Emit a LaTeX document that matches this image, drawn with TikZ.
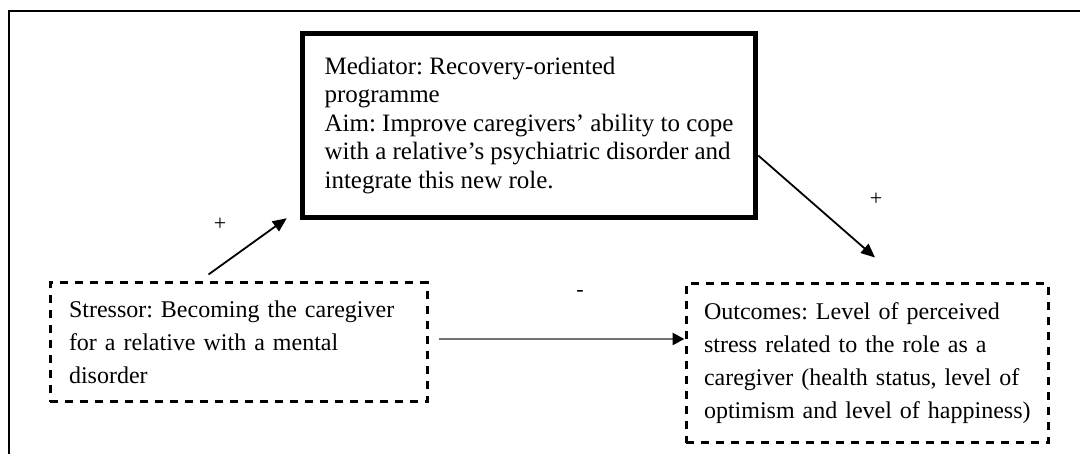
\documentclass[tikz,border=0pt]{standalone}
\usepackage{fontspec}
\setmainfont{Liberation Serif}
\usetikzlibrary{arrows.meta,calc}
\frenchspacing

\begin{document}
\begin{tikzpicture}[x=1pt, y=-1pt,
  medbox/.style={draw=black, line width=5.5pt, align=left, inner sep=0pt,
    font=\fontsize{25}{28.5}\selectfont},
  dashbox/.style={draw=black, line width=3pt, dash pattern=on 8pt off 7pt,
    align=left, inner xsep=19pt, inner ysep=0pt,
    font=\fontsize{24}{33}\selectfont},
  link/.style={line width=1.8pt, -{Triangle[length=14pt,width=12pt]}},
  greylink/.style={draw=black!55, line width=2.6pt,
    -{Triangle[length=12pt,width=12pt,fill=black,color=black]}},
  sign/.style={font=\fontsize{22}{24}\selectfont, inner sep=0pt}
]
\useasboundingbox (0,0) rectangle (1080,454);
\fill[white] (0,0) rectangle (1080,454);

% page frame (top and left rules)
\draw[line width=2.2pt] (1080,11) -- (9,11) -- (9,454);

% boxes
\node[medbox, minimum width=453pt, minimum height=184pt] (mediator) at (529,125.5)
  {Mediator: Recovery-oriented\\
   programme\\
   Aim: Improve caregivers’ ability to cope\\
   with a relative’s psychiatric disorder and\\
   integrate this new role.};

\node[dashbox, text width=339pt, minimum width=377pt, minimum height=119pt]
  (stressor) at (238.5,342.5)
  {Stressor: Becoming the caregiver\\
   for a relative with a mental\\
   disorder};

\node[dashbox, inner xsep=18pt, text width=326pt, minimum width=362pt, minimum height=159pt]
  (outcomes) at (867,363.5)
  {\mbox{Outcomes: Level of perceived}\\
   \mbox{stress related to the role as a}\\
   \mbox{caregiver (health status, level of}\\
   \mbox{optimism and level of happiness)}};

% connectors
\coordinate (s1) at ([xshift=-30pt,yshift=7pt]stressor.north);
\coordinate (e1) at ([xshift=-13pt,yshift=2pt]mediator.south west);
\draw[link] (s1) -- (e1);

\coordinate (s2) at ([yshift=-30pt]mediator.east);
\coordinate (e2) at ([xshift=8pt,yshift=25pt]outcomes.north);
\draw[link] (s2) -- (e2);

\coordinate (s3) at ([xshift=10pt,yshift=3.5pt]stressor.east);
\draw[greylink] (s3) -- (s3 -| outcomes.west);

% signs on the paths
\node[sign] (p1) at (220,224) {+};
\node[sign] (p2) at (876,199) {+};
\node[sign] (m1) at (580,293) {-};
\end{tikzpicture}
\end{document}
